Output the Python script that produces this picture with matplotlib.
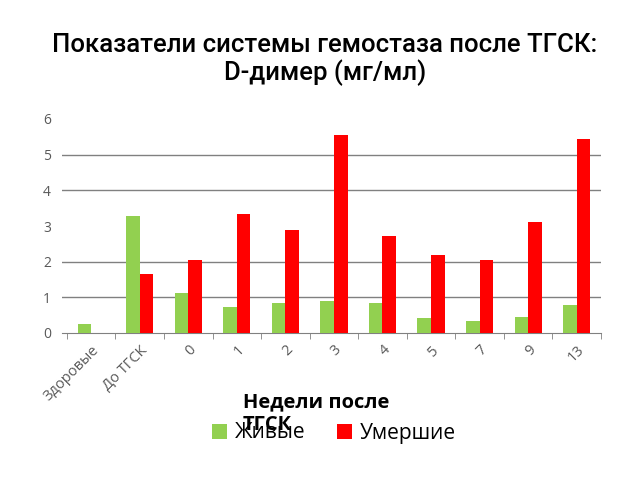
import matplotlib
matplotlib.use("Agg")
import matplotlib.pyplot as plt
import numpy as np

categories = ["Здоровые", "До ТГСК", "0", "1", "2", "3", "4", "5", "7", "9", "13"]
alive = [0.24, 3.28, 1.11, 0.73, 0.83, 0.89, 0.83, 0.41, 0.34, 0.46, 0.79]
dead = [0, 1.66, 2.05, 3.35, 2.90, 5.55, 2.72, 2.20, 2.04, 3.12, 5.45]
series_names = ["Живые", "Умершие"]
yticks = [0, 1, 2, 3, 4, 5, 6]
gridlines = [1, 2, 4, 5]

plt.rcParams['font.family'] = ['Open Sans', 'DejaVu Sans']

fig = plt.figure(figsize=(6.4, 4.8), dpi=100)
ax = fig.add_axes([62/640, 1-333/480, 539/640, (333-119)/480])

x = np.arange(len(categories))
w = 0.28
b1 = ax.bar(x - w/2, alive, w, color="#92D050", label=series_names[0], zorder=3)
b2 = ax.bar(x + w/2, dead, w, color="#FF0000", label=series_names[1], zorder=3)

ax.set_xlim(-0.6, len(categories) - 0.5)
ax.set_ylim(0, 6)
ax.set_yticks(yticks)
for g in gridlines:
    ax.axhline(g, color="#808080", lw=1, zorder=1)

for s in ["top", "right", "left"]:
    ax.spines[s].set_visible(False)
ax.spines["bottom"].set_color("#808080")

ax.tick_params(axis="y", length=0, labelsize=10, colors="#595959", pad=8)
ax.set_xticks(x)
ax.set_xticklabels(categories, rotation=45, ha="right", va="top",
                   rotation_mode="anchor", fontsize=10.5, color="#595959")
ax.tick_params(axis="x", length=0, pad=7)
ax.set_xticks(np.arange(len(categories) + 1) - 0.5, minor=True)
ax.tick_params(axis="x", which="minor", length=4, color="#808080")

title_font = dict(family=["Roboto", "DejaVu Sans"], fontweight="medium", fontsize=18.5)
fig.text(0.508, 1-45/480, "Показатели системы гемостаза после ТГСК:",
         ha="center", va="center", **title_font)
fig.text(0.508, 1-73/480, "D-димер (мг/мл)",
         ha="center", va="center", **title_font)

fig.legend(handles=[b1, b2], labels=series_names, loc="center",
           bbox_to_anchor=(0.522, 1-433/480), ncol=2, frameon=False,
           fontsize=15, handlelength=0.7, handleheight=0.7,
           columnspacing=1.5, handletextpad=0.4)

fig.text(243/640, 1-414/480, "Недели после\nТГСК", ha="left", va="center",
         fontsize=14.5, fontweight="bold", linespacing=1.2)

fig.savefig("out.png", dpi=100)
